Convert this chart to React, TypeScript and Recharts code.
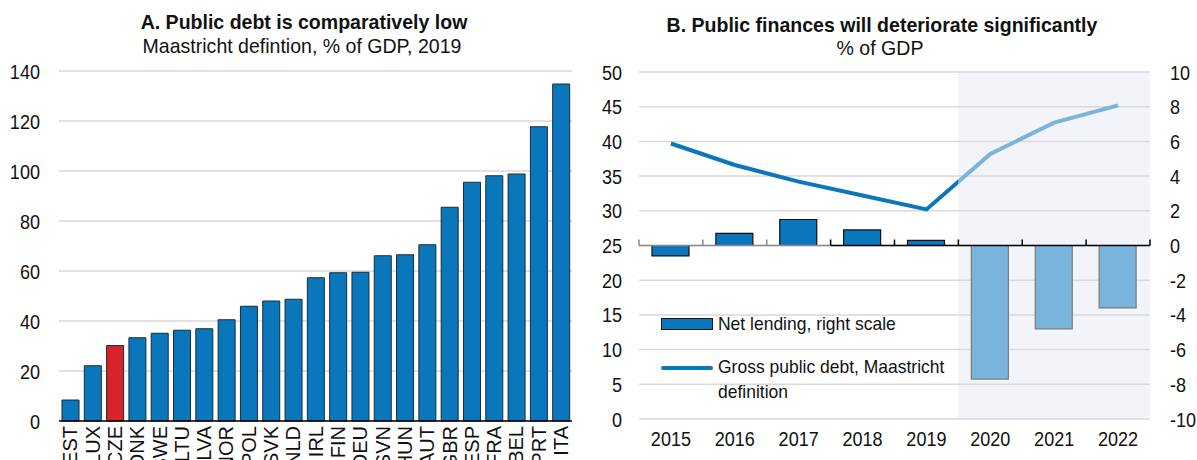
import {
  Bar,
  BarChart,
  CartesianGrid,
  Cell,
  ComposedChart,
  Line,
  ReferenceArea,
  ReferenceLine,
  XAxis,
  YAxis,
} from 'recharts';

// Panel A: gross debt 2019, Maastricht definition (% of GDP)
const countries = ['EST', 'LUX', 'CZE', 'DNK', 'SWE', 'LTU', 'LVA', 'NOR', 'POL', 'SVK', 'NLD', 'IRL', 'FIN', 'DEU', 'SVN', 'HUN', 'AUT', 'GBR', 'ESP', 'FRA', 'BEL', 'PRT', 'ITA'];
const debt2019 = [8.4, 22.1, 30.2, 33.3, 35.1, 36.3, 36.9, 40.5, 45.9, 48.0, 48.7, 57.3, 59.3, 59.5, 66.1, 66.5, 70.5, 85.5, 95.5, 98.1, 98.8, 117.7, 134.8];
const highlight = 'CZE';
const debtTicks = [0, 20, 40, 60, 80, 100, 120, 140];

// Panel B: public finances, % of GDP
const years = ['2015', '2016', '2017', '2018', '2019', '2020', '2021', '2022'];
const netLending = [-0.6, 0.7, 1.5, 0.9, 0.3, -7.7, -4.8, -3.6];
const grossDebt = [39.7, 36.6, 34.2, 32.2, 30.2, 38.2, 42.7, 45.2];
const firstProjection = '2020';
const leftTicks = [0, 5, 10, 15, 20, 25, 30, 35, 40, 45, 50];
const rightTicks = [-10, -8, -6, -4, -2, 0, 2, 4, 6, 8, 10];

const FONT = "'Liberation Sans', Arial, sans-serif";
const BLUE = '#0a77bd';
const LIGHT_BLUE = '#78b4db';
const RED = '#d9232a';
const SQUEEZE = 0.86;

const debtRows = countries.map((c, i) => ({ country: c, debt: debt2019[i] }));
const financeRows = years.map((y, i) => ({ year: y, lending: netLending[i], debt: grossDebt[i] }));
const projStart = years.indexOf(firstProjection);
const splitAt = (projStart - 0.5) / (years.length - 1);

const tickStyle = { fontSize: 21, fill: '#111', fontFamily: FONT };

// narrow-looking tick text (reference uses a condensed face)
function NarrowTick(props: any) {
  const { x, y, payload, textAnchor, dy } = props;
  return (
    <g transform={`translate(${x},${y}) scale(${SQUEEZE},1)`}>
      <text x={0} y={0} dy={dy} textAnchor={textAnchor} style={tickStyle}>
        {payload.value}
      </text>
    </g>
  );
}

function CountryTick(props: any) {
  const { x, y, payload } = props;
  return (
    <g transform={`translate(${x},${y})`}>
      <text transform="rotate(-90)" x={-5} dy="0.36em" textAnchor="end" style={{ ...tickStyle, fontSize: 20 }}>
        {payload.value}
      </text>
    </g>
  );
}

function AxisWithTicks(props: any) {
  const { x1, x2, y1 } = props;
  const n = years.length;
  const step = (x2 - x1) / n;
  const split = x1 + step * projStart;
  const marks = [];
  for (let i = 0; i <= n; i++) {
    const tx = x1 + step * i;
    marks.push(<line key={i} x1={tx} x2={tx} y1={y1} y2={y1 - 6} stroke={i > projStart ? '#8a8a8a' : '#000'} strokeWidth={1.5} />);
  }
  return (
    <g>
      <line x1={x1} x2={split} y1={y1} y2={y1} stroke="#000" strokeWidth={1.5} />
      <line x1={split} x2={x2} y1={y1} y2={y1} stroke="#8a8a8a" strokeWidth={1.5} />
      {marks}
    </g>
  );
}

function FinanceLegend() {
  const row = { display: 'flex', alignItems: 'flex-start', fontFamily: FONT, fontSize: 19, lineHeight: '25px', color: '#111' } as const;
  const label = { transform: 'scaleX(0.92)', transformOrigin: 'left top', whiteSpace: 'nowrap' } as const;
  return (
    <div style={{ position: 'absolute', left: 661, top: 311 }}>
      <div style={row}>
        <div style={{ width: 50, height: 10, background: BLUE, border: '1px solid #1a1a1a', marginTop: 7, marginRight: 5 }} />
        <div style={label}>Net lending, right scale</div>
      </div>
      <div style={{ ...row, marginTop: 18 }}>
        <div style={{ width: 52, height: 4, background: BLUE, borderRadius: 2, marginTop: 12, marginRight: 5 }} />
        <div style={label}>
          Gross public debt, Maastricht
          <br />
          definition
        </div>
      </div>
    </div>
  );
}

export default function App() {
  const title = { position: 'absolute', textAlign: 'center', fontFamily: FONT, color: '#111', whiteSpace: 'nowrap', fontSize: 21, transform: 'scaleX(0.93)' } as const;
  return (
    <div style={{ position: 'absolute', left: 0, top: 0, width: 1197, height: 460, overflow: 'hidden', background: '#fff' }}>
      <div style={{ ...title, left: 4, width: 600, top: 10, fontWeight: 700 }}>A. Public debt is comparatively low</div>
      <div style={{ ...title, left: 2, width: 600, top: 34 }}>Maastricht defintion, % of GDP, 2019</div>
      <div style={{ ...title, left: 582, width: 600, top: 13, fontWeight: 700 }}>B. Public finances will deteriorate significantly</div>
      <div style={{ ...title, left: 580, width: 600, top: 36 }}>% of GDP</div>

      <div style={{ position: 'absolute', left: 0, top: 0 }}>
        <BarChart width={590} height={460} data={debtRows} margin={{ top: 71, right: 18, bottom: 0, left: 0 }} barSize={17}>
          <CartesianGrid vertical={false} stroke="#d9d9d9" strokeWidth={1.5} />
          <XAxis
            dataKey="country"
            interval={0}
            height={39}
            tickLine={false}
            tickSize={0}
            tickMargin={0}
            axisLine={{ stroke: '#000', strokeWidth: 1.5 }}
            tick={<CountryTick />}
          />
          <YAxis
            domain={[0, 140]}
            ticks={debtTicks}
            interval={0}
            width={59}
            axisLine={false}
            tickLine={false}
            tickSize={0}
            tickMargin={19}
            tick={<NarrowTick dy="0.36em" />}
          />
          <Bar dataKey="debt" isAnimationActive={false} stroke="#1c2a36" strokeWidth={1}>
            {debtRows.map((r) => (
              <Cell key={r.country} fill={r.country === highlight ? RED : BLUE} />
            ))}
          </Bar>
        </BarChart>
      </div>

      <div style={{ position: 'absolute', left: 590, top: 0 }}>
        <ComposedChart width={607} height={460} data={financeRows} margin={{ top: 72, right: 0, bottom: 0, left: 0 }}>
          <defs>
            <linearGradient id="debtGrad" x1="0" y1="0" x2="1" y2="0">
              <stop offset={0} stopColor={BLUE} />
              <stop offset={splitAt} stopColor={BLUE} />
              <stop offset={splitAt} stopColor={LIGHT_BLUE} />
              <stop offset={1} stopColor={LIGHT_BLUE} />
            </linearGradient>
          </defs>
          <ReferenceArea
            yAxisId="left"
            x1={firstProjection}
            x2={years[years.length - 1]}
            y1={0}
            y2={50}
            fill="#d7daeb"
            fillOpacity={0.3}
            stroke="none"
          />
          <CartesianGrid vertical={false} yAxisId="left" stroke="#d9d9d9" strokeWidth={1.5} />
          <XAxis
            dataKey="year"
            height={41}
            interval={0}
            axisLine={false}
            tickLine={false}
            tickSize={0}
            tickMargin={12}
            tick={<NarrowTick dy="0.71em" />}
          />
          <YAxis
            yAxisId="left"
            domain={[0, 50]}
            ticks={leftTicks}
            interval={0}
            width={49}
            axisLine={false}
            tickLine={false}
            tickSize={0}
            tickMargin={17}
            tick={<NarrowTick dy="0.36em" />}
          />
          <YAxis
            yAxisId="right"
            orientation="right"
            domain={[-10, 10]}
            ticks={rightTicks}
            interval={0}
            width={47}
            axisLine={false}
            tickLine={false}
            tickSize={0}
            tickMargin={20}
            tick={<NarrowTick dy="0.36em" />}
          />
          <Bar yAxisId="right" dataKey="lending" barSize={37} isAnimationActive={false} strokeWidth={1.2}>
            {financeRows.map((r, i) => (
              <Cell key={r.year} fill={i >= projStart ? LIGHT_BLUE : BLUE} stroke={i >= projStart ? '#7a7a7a' : '#111'} />
            ))}
          </Bar>
          <ReferenceLine yAxisId="right" y={0} shape={(p: any) => <AxisWithTicks {...p} />} />
          <Line
            yAxisId="left"
            dataKey="debt"
            type="linear"
            stroke="url(#debtGrad)"
            strokeWidth={4}
            dot={false}
            activeDot={false}
            isAnimationActive={false}
          />
        </ComposedChart>
      </div>

      <FinanceLegend />
    </div>
  );
}
